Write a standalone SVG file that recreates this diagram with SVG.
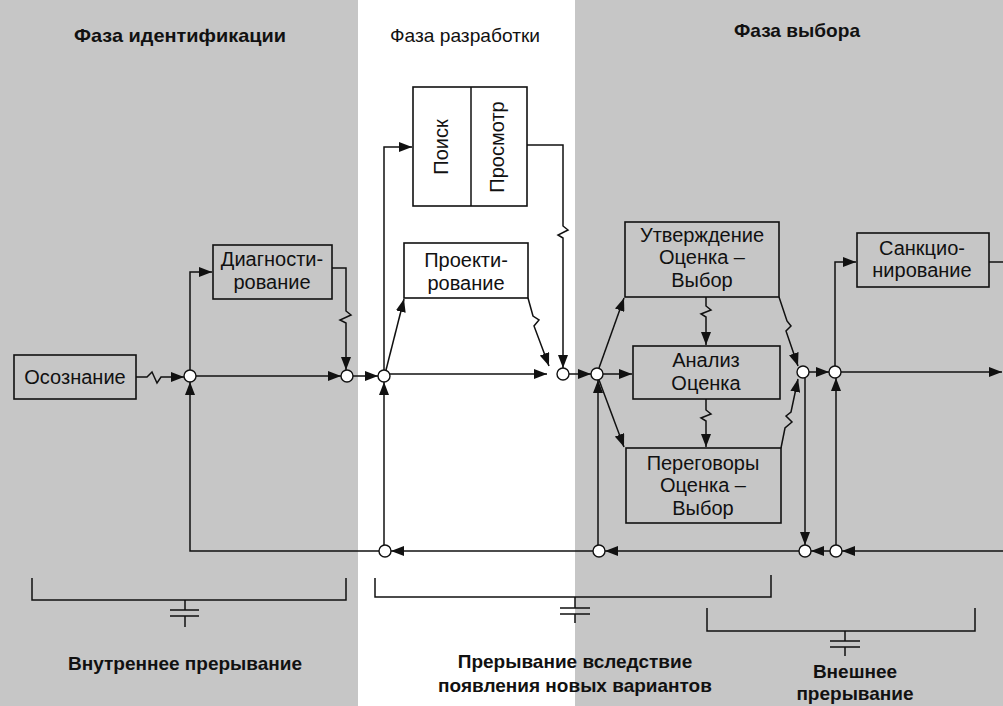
<svg xmlns="http://www.w3.org/2000/svg" width="1003" height="706" viewBox="0 0 1003 706">
  <style>
    .box { fill: none; stroke: #111; stroke-width: 1.6; }
    .ln { fill: none; stroke: #111; stroke-width: 1.5; }
    .arr { fill: none; stroke: #111; stroke-width: 1.5; marker-end: url(#ah); }
    .jn { fill: #fff; stroke: #111; stroke-width: 1.4; }
    .t { font-family: "Liberation Sans", Arial, sans-serif; font-size: 20px; fill: #111; text-anchor: middle; }
    .h { font-family: "Liberation Sans", Arial, sans-serif; font-size: 19px; fill: #111; text-anchor: middle; }
    .b { font-weight: bold; }
    .shade { fill: #c6c6c6; }
  </style>
  <defs>
    <marker id="ah" viewBox="0 0 13 10" refX="13" refY="5" markerWidth="13" markerHeight="10" markerUnits="userSpaceOnUse" orient="auto">
      <path d="M0,0 L13,5 L0,10 z" fill="#111"/>
    </marker>
  </defs>

  <!-- background: shaded phase bands -->
  <rect x="0" y="0" width="1003" height="706" fill="#fff"/>
  <rect class="shade" x="0" y="0" width="358" height="706"/>
  <rect class="shade" x="575" y="0" width="428" height="706"/>

  <!-- phase headings -->
  <g id="headings">
    <text class="h b" x="180" y="42" textLength="212" lengthAdjust="spacingAndGlyphs">Фаза идентификации</text>
    <text class="h" x="465" y="42" textLength="150" lengthAdjust="spacingAndGlyphs">Фаза разработки</text>
    <text class="h b" x="797" y="37" textLength="126" lengthAdjust="spacingAndGlyphs">Фаза выбора</text>
  </g>

  <!-- nodes -->
  <g id="n-osoznanie">
    <rect class="box" x="14" y="355" width="122" height="44"/>
    <text class="t" x="75" y="384">Осознание</text>
  </g>
  <g id="n-diagnost">
    <rect class="box" x="213" y="245" width="119" height="54"/>
    <text class="t" x="272" y="266">Диагности-</text>
    <text class="t" x="272" y="289">рование</text>
  </g>
  <g id="n-poisk">
    <rect class="box" x="413" y="87" width="114" height="119"/>
    <line class="ln" x1="471" y1="87" x2="471" y2="206"/>
    <text class="t" transform="translate(448,147) rotate(-90)">Поиск</text>
    <text class="t" transform="translate(504,147) rotate(-90)">Просмотр</text>
  </g>
  <g id="n-proekt">
    <rect class="box" x="404" y="243" width="124" height="55"/>
    <text class="t" x="466" y="267">Проекти-</text>
    <text class="t" x="466" y="290">рование</text>
  </g>
  <g id="n-utverzhd">
    <rect class="box" x="625" y="222" width="154" height="75"/>
    <text class="t" x="702" y="242">Утверждение</text>
    <text class="t" x="702" y="264">Оценка –</text>
    <text class="t" x="702" y="287">Выбор</text>
  </g>
  <g id="n-analiz">
    <rect class="box" x="633" y="346" width="147" height="53"/>
    <text class="t" x="706" y="367">Анализ</text>
    <text class="t" x="706" y="390">Оценка</text>
  </g>
  <g id="n-peregov">
    <rect class="box" x="626" y="448" width="155" height="75"/>
    <text class="t" x="703" y="470">Переговоры</text>
    <text class="t" x="703" y="492">Оценка –</text>
    <text class="t" x="703" y="515">Выбор</text>
  </g>
  <g id="n-sankc">
    <rect class="box" x="857" y="233" width="132" height="54"/>
    <text class="t" x="922" y="255">Санкцио-</text>
    <text class="t" x="922" y="277">нирование</text>
  </g>

  <!-- connectors -->
  <g id="connectors">
    <path class="arr" d="M136,377 H147 L152,372 L157,383 L161,377 H184"/>
    <path class="arr" d="M190,370 V272 H212"/>
    <path class="arr" d="M196,376 H341"/>
    <path class="arr" d="M332,268 H346 V311 L351,315 L340,320 L346,323 V370"/>
    <path class="arr" d="M353,376 H378"/>
    <path class="arr" d="M384,370 V147 H412"/>
    <path class="arr" d="M386,370 L404,299"/>
    <path class="arr" d="M390,374 H547"/>
    <path class="arr" d="M528,298 L533,316 L539,320 L534,326 L549,366"/>
    <path class="arr" d="M527,145 H563 V226 L568,230 L558,235 L563,238 V368"/>
    <path class="arr" d="M569,374 H591"/>
    <path class="arr" d="M599,368 L624,298"/>
    <path class="arr" d="M603,374 H632"/>
    <path class="arr" d="M599,380 L624,447"/>
    <path class="arr" d="M706,297 V306 L711,310 L701,314 L706,317 V345"/>
    <path class="arr" d="M706,399 V410 L711,414 L701,418 L706,421 V447"/>
    <path class="arr" d="M779,297 L787,321 L791,326 L786,331 L798,366"/>
    <path class="arr" d="M781,448 L785,428 L792,422 L786,416 L791,412 L798,379"/>
    <path class="arr" d="M809,372 H829"/>
    <path class="arr" d="M805,378 V545"/>
    <path class="arr" d="M835,366 V262 H856"/>
    <path class="arr" d="M841,372 H1002"/>
    <path class="ln" d="M989,262 H1003"/>
    <path class="arr" d="M1003,551 H842"/>
    <path class="arr" d="M830,551 H811"/>
    <path class="arr" d="M799,551 H605"/>
    <path class="arr" d="M598,545 V380"/>
    <path class="arr" d="M593,551 H391"/>
    <path class="arr" d="M384,545 V382"/>
    <path class="arr" d="M379,551 H190 V382"/>
    <path class="arr" d="M836,545 V378"/>
  </g>

  <!-- junction points -->
  <g id="junctions">
    <circle class="jn" cx="190" cy="376" r="6"/>
    <circle class="jn" cx="347" cy="376" r="6"/>
    <circle class="jn" cx="384" cy="376" r="6"/>
    <circle class="jn" cx="563" cy="374" r="6"/>
    <circle class="jn" cx="597" cy="374" r="6"/>
    <circle class="jn" cx="803" cy="372" r="6"/>
    <circle class="jn" cx="835" cy="372" r="6"/>
    <circle class="jn" cx="385" cy="551" r="6"/>
    <circle class="jn" cx="599" cy="551" r="6"/>
    <circle class="jn" cx="805" cy="551" r="6"/>
    <circle class="jn" cx="836" cy="551" r="6"/>
  </g>

  <!-- interruption brackets -->
  <g id="br-internal">
    <path class="ln" d="M32,578 V600 H346 V578"/>
    <path class="ln" d="M185,600 V610 M170,610 H199 M170,616 H199 M185,616 V627"/>
    <text class="h b" x="185" y="670">Внутреннее прерывание</text>
  </g>
  <g id="br-new-variants">
    <path class="ln" d="M375,578 V597 H771 V575"/>
    <path class="ln" d="M575,597 V608 M560,608 H590 M560,614 H590 M575,614 V623"/>
    <text class="h b" x="575" y="668" font-weight="normal">Прерывание вследствие</text>
    <text class="h b" x="575" y="692" font-weight="normal">появления новых вариантов</text>
  </g>
  <g id="br-external">
    <path class="ln" d="M707,608 V631 H975 V608"/>
    <path class="ln" d="M845,631 V641 M830,641 H860 M830,647 H860 M845,647 V656"/>
    <text class="h b" x="855" y="678">Внешнее</text>
    <text class="h b" x="855" y="700">прерывание</text>
  </g>
</svg>
